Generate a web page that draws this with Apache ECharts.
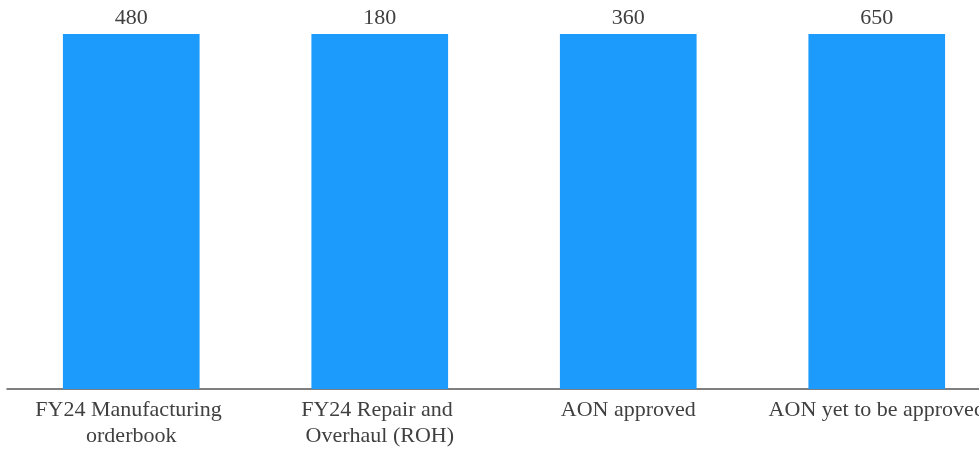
<!DOCTYPE html>
<html>
<head>
<meta charset="utf-8">
<script src="https://cdn.jsdelivr.net/npm/echarts@6/dist/echarts.min.js"></script>
<style>
  html, body { margin: 0; padding: 0; background: #fff; overflow: hidden; }
  /* the original plot runs past the right edge of the picture */
  #chart { width: 1001px; height: 451px; }
</style>
</head>
<body>
<div id="chart"></div>
<script>
// categories on the x axis
const categories = [
  'FY24 Manufacturing orderbook',
  'FY24 Repair and Overhaul (ROH)',
  'AON approved',
  'AON yet to be approved'
];
// numbers shown above the bars
const valueLabels = [480, 180, 360, 650];
// bar heights (all bars in the picture are drawn the same height)
const barHeights = [1, 1, 1, 1];

const textColor = '#404040';
const fontFamily = '"Liberation Serif", "Times New Roman", serif';

let myChart = echarts.init(document.getElementById('chart'));
myChart.setOption({
  animation: false,
  grid: { left: 7, right: 0, top: 34, bottom: 62, containLabel: false },
  xAxis: {
    type: 'category',
    data: categories,
    axisLine: { lineStyle: { color: '#555', width: 1.5 } },
    axisTick: { show: false },
    axisLabel: {
      color: textColor,
      fontFamily: fontFamily,
      fontSize: 22,
      lineHeight: 26,
      margin: 8,
      width: 232,
      overflow: 'break',
      interval: 0
    }
  },
  yAxis: {
    type: 'value',
    min: 0,
    max: 1,
    show: false,
    splitLine: { show: false }
  },
  series: [{
    type: 'bar',
    data: barHeights,
    barWidth: '55%',
    itemStyle: { color: '#1C9BFD' },
    label: {
      show: true,
      position: 'top',
      distance: 5,
      color: textColor,
      fontFamily: fontFamily,
      fontSize: 22,
      formatter: p => String(valueLabels[p.dataIndex])
    }
  }]
});
</script>
</body>
</html>
